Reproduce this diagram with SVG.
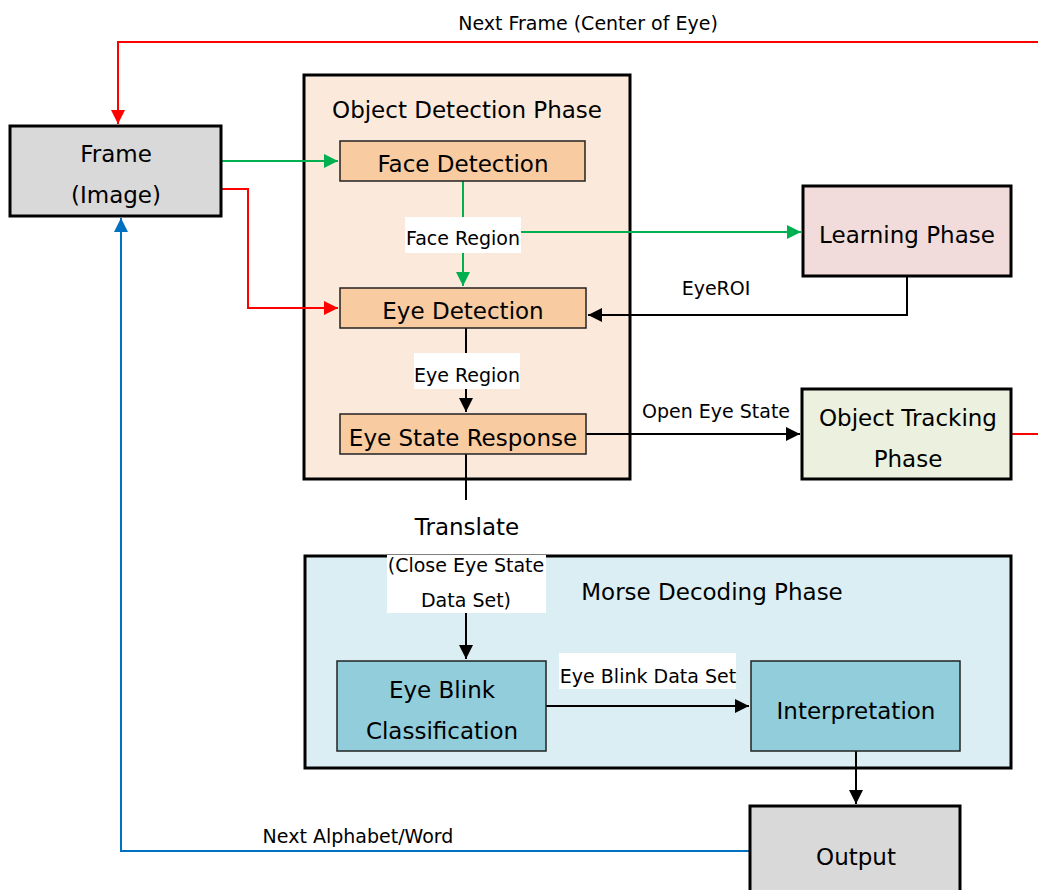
<svg xmlns="http://www.w3.org/2000/svg" width="1038" height="890" viewBox="0 0 1038 890">
<style>
text{font-family:"DejaVu Sans","Noto Sans",sans-serif;fill:#000;text-anchor:middle}
.big{font-size:23px}
.sm{font-size:19px}
.phase{stroke:#000;stroke-width:3}
.inner{stroke:#222;stroke-width:1.5}
.c{fill:none;stroke-width:2}
.k{stroke:#000}.r{stroke:#ff0000}.g{stroke:#00b050}.b{stroke:#0070c0}
.lbl{fill:#fff}
</style>
<defs>
<marker id="ak" markerUnits="userSpaceOnUse" markerWidth="16" markerHeight="14" refX="14" refY="7" orient="auto"><path d="M0,0 L14,7 L0,14 Z" fill="#000"/></marker>
<marker id="ar" markerUnits="userSpaceOnUse" markerWidth="16" markerHeight="14" refX="14" refY="7" orient="auto"><path d="M0,0 L14,7 L0,14 Z" fill="#ff0000"/></marker>
<marker id="ag" markerUnits="userSpaceOnUse" markerWidth="16" markerHeight="14" refX="14" refY="7" orient="auto"><path d="M0,0 L14,7 L0,14 Z" fill="#00b050"/></marker>
<marker id="ab" markerUnits="userSpaceOnUse" markerWidth="16" markerHeight="14" refX="14" refY="7" orient="auto"><path d="M0,0 L14,7 L0,14 Z" fill="#0070c0"/></marker>
</defs>
<rect width="1038" height="890" fill="#fff"/>

<g id="object-detection-phase">
<rect class="phase" x="304" y="75" width="326" height="404" fill="#fbe9dc"/>
<text class="big" x="467" y="118">Object Detection Phase</text>
</g>
<g id="morse-decoding-phase">
<rect class="phase" x="305" y="556" width="706" height="212" fill="#dbeef3"/>
<text class="big" x="712" y="600">Morse Decoding Phase</text>
</g>

<g id="connectors">
<path class="c r" d="M1038,42 H118 V124" marker-end="url(#ar)"/>
<path class="c r" d="M1011,434 H1038"/>
<path class="c g" d="M221,161 H338" marker-end="url(#ag)"/>
<path class="c g" d="M463,181 V286" marker-end="url(#ag)"/>
<path class="c g" d="M463,232 H801" marker-end="url(#ag)"/>
<path class="c r" d="M221,189 H248 V308 H338" marker-end="url(#ar)"/>
<path class="c k" d="M907,276 V315 H588" marker-end="url(#ak)"/>
<path class="c k" d="M466,328 V412" marker-end="url(#ak)"/>
<path class="c k" d="M586,434 H800" marker-end="url(#ak)"/>
<path class="c k" d="M466,454 V500"/>
<path class="c k" d="M466,612 V659" marker-end="url(#ak)"/>
<path class="c k" d="M546,706 H749" marker-end="url(#ak)"/>
<path class="c k" d="M856,751 V804" marker-end="url(#ak)"/>
<path class="c b" d="M750,851 H121 V218" marker-end="url(#ab)"/>
</g>

<g id="labels">
<text class="sm" x="588" y="30">Next Frame (Center of Eye)</text>
<rect class="lbl" x="405" y="217" width="116" height="36"/>
<text class="sm" x="463" y="245">Face Region</text>
<text class="sm" x="716" y="295">EyeROI</text>
<rect class="lbl" x="414" y="353" width="106" height="36"/>
<text class="sm" x="467" y="382">Eye Region</text>
<text class="sm" x="716" y="418">Open Eye State</text>
<text class="big" x="467" y="535">Translate</text>
<rect class="lbl" x="387" y="555" width="159" height="58"/>
<text class="sm" x="466" y="572">(Close Eye State</text>
<text class="sm" x="466" y="607">Data Set)</text>
<rect class="lbl" x="559" y="653" width="177" height="36"/>
<text class="sm" x="648" y="683">Eye Blink Data Set</text>
<text class="sm" x="358" y="843">Next Alphabet/Word</text>
</g>

<g id="frame">
<rect class="phase" x="10" y="126" width="211" height="90" fill="#d9d9d9"/>
<text class="big" x="116" y="162">Frame</text>
<text class="big" x="116" y="203">(Image)</text>
</g>
<g id="face-detection">
<rect class="inner" x="340" y="141" width="245" height="40" fill="#f8cba0"/>
<text class="big" x="463" y="172">Face Detection</text>
</g>
<g id="eye-detection">
<rect class="inner" x="340" y="288" width="246" height="40" fill="#f8cba0"/>
<text class="big" x="463" y="319">Eye Detection</text>
</g>
<g id="eye-state-response">
<rect class="inner" x="340" y="414" width="246" height="40" fill="#f8cba0"/>
<text class="big" x="463" y="446">Eye State Response</text>
</g>
<g id="learning-phase">
<rect class="phase" x="803" y="186" width="208" height="90" fill="#f2dcdb"/>
<text class="big" x="907" y="243">Learning Phase</text>
</g>
<g id="object-tracking-phase">
<rect class="phase" x="802" y="389" width="209" height="90" fill="#ebf1de"/>
<text class="big" x="908" y="426">Object Tracking</text>
<text class="big" x="908" y="467">Phase</text>
</g>
<g id="eye-blink-classification">
<rect class="inner" x="337" y="661" width="209" height="90" fill="#92cddc"/>
<text class="big" x="442" y="698">Eye Blink</text>
<text class="big" x="442" y="739">Classification</text>
</g>
<g id="interpretation">
<rect class="inner" x="751" y="661" width="209" height="90" fill="#92cddc"/>
<text class="big" x="856" y="719">Interpretation</text>
</g>
<g id="output">
<rect class="phase" x="750" y="806" width="210" height="100" fill="#d9d9d9"/>
<text class="big" x="856" y="865">Output</text>
</g>
</svg>
